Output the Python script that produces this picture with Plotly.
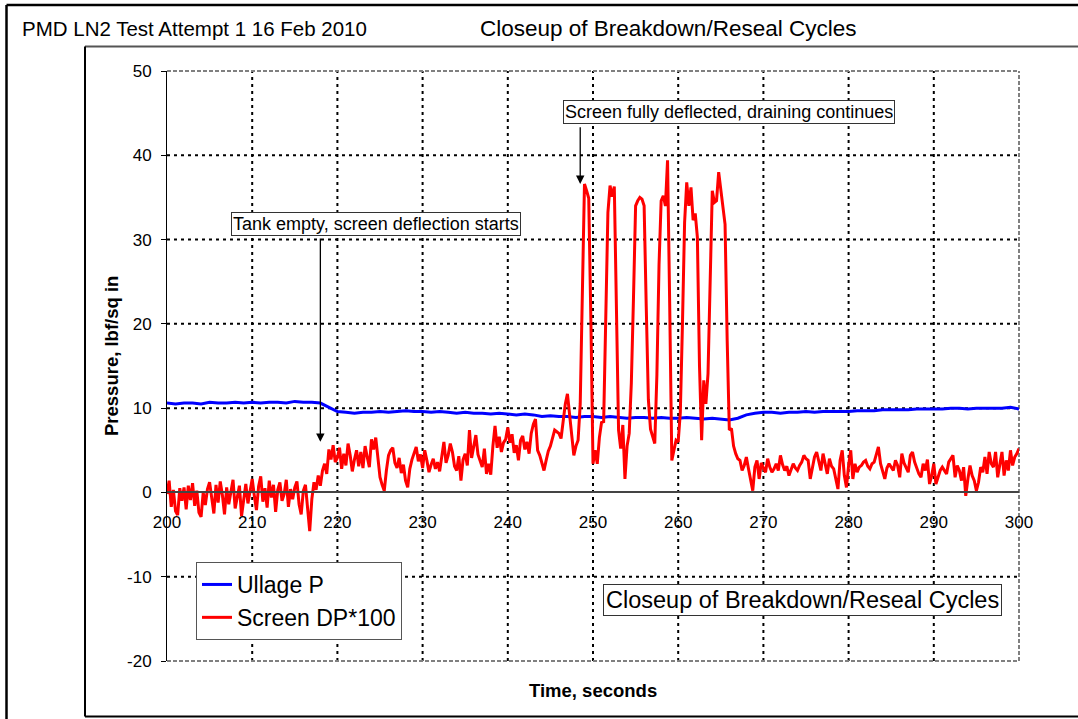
import plotly.graph_objects as go

# ---------------- data ----------------
x_ticks = [200, 210, 220, 230, 240, 250, 260, 270, 280, 290, 300]
y_ticks = [-20, -10, 0, 10, 20, 30, 40, 50]
y_tick_text = ["-20", "-10", "0", "10", "20", "30", "40", "50"]

# Ullage pressure, 1 s samples from t = 200 s
ullage_t0, ullage_dt = 200, 1.0
ullage_p = [
    10.6, 10.5, 10.6, 10.6, 10.5, 10.7, 10.6, 10.6, 10.7, 10.6,
    10.7, 10.6, 10.7, 10.7, 10.6, 10.8, 10.7, 10.7, 10.6, 10.1,
    9.6, 9.5, 9.4, 9.5, 9.5, 9.6, 9.5, 9.6, 9.7, 9.6,
    9.6, 9.5, 9.6, 9.5, 9.4, 9.5, 9.4, 9.4, 9.3, 9.4,
    9.3, 9.2, 9.3, 9.2, 9.0, 9.1, 9.0, 9.0, 8.9, 9.0,
    9.0, 8.9, 9.0, 8.9, 8.8, 8.9, 8.9, 8.8, 8.9, 8.8,
    8.8, 8.9, 8.8, 8.7, 8.8, 8.7, 8.6, 8.8, 9.2, 9.4,
    9.5, 9.5, 9.4, 9.5, 9.5, 9.6, 9.5, 9.6, 9.6, 9.6,
    9.6, 9.7, 9.7, 9.7, 9.8, 9.8, 9.8, 9.8, 9.9, 9.9,
    9.9, 9.9, 10.0, 10.0, 9.9, 10.0, 10.0, 10.0, 10.0, 10.1,
    9.9,
]

# Screen DP * 100, 0.25 s samples from t = 200 s
screen_t0, screen_dt = 200, 0.25
screen_dp = [
    # 200-205
    -0.2, 1.4, -1.7, 0.3, -2.2, -2.7, 0.5, -1.0, 0.6, -2.0, 0.8, -0.9, 1.1, -1.6, 0.2, -2.4, -2.9, 0.0, -1.5, 0.4,
    # 205-210
    1.2, -0.8, -2.5, 0.9, -1.2, 1.3, -0.3, -2.6, 0.6, -1.4, 0.2, 1.5, -1.9, -0.5, 0.8, -2.8, -0.7, 1.0, -1.3, 0.3,
    # 210-215
    1.6, -0.4, -2.1, 0.7, 1.9, -1.1, 0.5, -1.8, 1.4, -0.6, 0.9, -2.3, 0.3, 1.2, -1.0, -0.2, 1.5, -1.7, 0.4, -0.8,
    # 215-220
    0.6, 1.3, -1.4, -2.6, 0.2, 0.9, -1.6, -4.6, -0.8, 1.2, 0.3, 2.0, 0.8, 2.6, 3.4, 2.2, 5.1, 3.9, 5.6, 3.6,
    # 220-225
    4.1, 5.3, 2.8, 4.6, 3.2, 5.8, 4.4, 2.5, 3.9, 5.0, 3.1, 4.8, 2.9, 5.5, 4.2, 3.0, 6.3, 5.1, 6.5, 4.0,
    # 225-230
    1.8, 0.9, 0.2, 2.6, 4.4, 5.0, 5.3, 3.5, 2.9, 4.1, 2.3, 3.3, 1.4, 0.6, 2.8, 3.9, 4.6, 5.4, 3.7, 4.5,
    # 230-235
    2.9, 5.0, 3.8, 2.4, 3.3, 4.0, 2.8, 3.6, 2.5, 4.2, 6.0, 3.5, 4.4, 5.8, 4.8, 3.1, 2.6, 4.3, 1.4, 3.9,
    # 235-240
    4.6, 3.2, 7.4, 4.1, 5.3, 6.8, 4.5, 3.8, 3.0, 5.2, 2.2, 3.4, 2.1, 5.5, 7.9, 5.3, 6.6, 4.8, 5.9, 6.3,
    # 240-245
    7.7, 5.9, 6.9, 4.7, 5.6, 3.8, 6.2, 6.7, 5.1, 6.0, 4.6, 7.0, 8.1, 8.7, 5.0, 4.4, 3.6, 2.6, 3.8, 4.9,
    # 245-250
    5.5, 6.5, 7.4, 7.2, 7.0, 6.4, 8.8, 10.5, 11.7, 9.0, 6.4, 4.4, 5.5, 6.2, 10.5, 22.0, 36.6, 35.8, 34.9, 20.5,
    # 250-255
    3.4, 5.0, 3.4, 6.5, 8.3, 8.4, 20.0, 33.2, 36.4, 35.1, 36.3, 22.0, 7.4, 5.2, 8.0, 1.6, 5.5, 7.0, 13.0, 23.0,
    # 255-260
    34.0, 34.6, 35.0, 34.8, 34.0, 22.0, 11.0, 7.5, 6.5, 5.8, 14.0, 27.0, 34.6, 35.2, 34.0, 39.4, 22.4, 3.8, 5.0, 6.2,
    # 260-265
    6.0, 9.5, 20.0, 32.0, 36.8, 34.0, 36.2, 32.3, 33.1, 30.3, 15.0, 6.2, 13.3, 10.5, 14.1, 24.0, 35.8, 34.4, 34.6, 38.0,
    # 265-270
    35.9, 34.0, 31.8, 18.0, 7.4, 7.6, 5.5, 4.6, 4.0, 3.8, 2.6, 3.2, 4.2, 2.8, 1.5, 0.2, 3.0, 3.8, 1.6, 3.5,
    # 270-275
    2.9, 2.4, 4.0, 3.0, 2.4, 2.8, 3.4, 2.6, 4.4, 3.3, 2.6, 3.1, 2.0, 2.7, 3.4, 2.9, 2.6, 3.2, 3.6, 4.4,
    # 275-280
    4.0, 3.8, 1.6, 2.9, 4.2, 4.8, 3.5, 2.6, 4.6, 3.4, 2.2, 4.0, 3.1, 2.8, 1.5, 0.4, 3.8, 5.0, 2.0, 0.6,
    # 280-285
    3.2, 5.0, 1.6, 3.4, 2.4, 3.0, 3.2, 3.6, 3.8, 3.1, 2.8, 3.4, 3.6, 4.6, 5.4, 3.4, 2.5, 1.6, 2.9, 3.4,
    # 285-290
    3.0, 2.6, 3.8, 3.2, 1.8, 4.6, 3.5, 3.0, 2.4, 4.4, 4.8, 3.6, 2.8, 2.2, 1.8, 3.4, 2.6, 3.9, 1.0, 2.0,
    # 290-295
    3.4, 1.0, 1.8, 2.6, 3.0, 2.6, 2.2, 3.6, 4.0, 4.4, 1.8, 3.2, 2.6, 1.4, 3.0, -0.4, 1.6, 3.2, 2.0, 1.4,
    # 295-300
    0.2, 1.2, 3.0, 2.4, 4.2, 2.2, 4.8, 3.4, 3.0, 4.8, 1.8, 3.6, 4.8, 2.0, 3.8, 2.6, 5.0, 3.2, 4.2, 4.6,
    5.2,
]

ullage_t = [ullage_t0 + ullage_dt * i for i in range(len(ullage_p))]
screen_t = [screen_t0 + screen_dt * i for i in range(len(screen_dp))]

# annotation targets (data coordinates)
tank_empty_t, tank_empty_tail, tank_empty_tip = 218.0, 30.3, 6.0
deflected_t, deflected_tail, deflected_tip = 248.5, 43.5, 36.6

# ---------------- layout geometry ----------------
W, H = 1078, 719
px_l, px_r, px_t, px_b = 167, 1019, 71, 661
xdom = [px_l / W, px_r / W]
ydom = [1 - px_b / H, 1 - px_t / H]
ymin, ymax = y_ticks[0], y_ticks[-1]
zero_pos = ydom[0] + (0 - ymin) / (ymax - ymin) * (ydom[1] - ydom[0])

FONT = "Arial, Liberation Sans, sans-serif"

fig = go.Figure()
fig.add_trace(go.Scatter(x=ullage_t, y=ullage_p, mode="lines", name="Ullage P",
                         line=dict(color="#0000FF", width=3)))
fig.add_trace(go.Scatter(x=screen_t, y=screen_dp, mode="lines", name="Screen DP*100",
                         line=dict(color="#FF0000", width=3)))

shapes = []
grid_style = dict(color="black", width=2, dash="3px,4px")
for xv in x_ticks[1:-1]:
    shapes.append(dict(type="line", xref="x", yref="y domain", x0=xv, x1=xv, y0=0, y1=1,
                       line=grid_style, layer="below"))
for yv in y_ticks:
    if yv in (ymin, 0, ymax):
        continue
    shapes.append(dict(type="line", xref="x domain", yref="y", x0=0, x1=1, y0=yv, y1=yv,
                       line=grid_style, layer="below"))
border = dict(color="#808080", width=2, dash="4px,2px")
shapes += [
    dict(type="line", xref="x domain", yref="y domain", x0=0, x1=1, y0=1, y1=1, line=border, layer="below"),
    dict(type="line", xref="x domain", yref="y domain", x0=1, x1=1, y0=0, y1=1, line=border, layer="below"),
    dict(type="line", xref="x domain", yref="y domain", x0=0, x1=1, y0=0, y1=0, line=border, layer="below"),
]
# outer frames
shapes += [
    dict(type="line", xref="paper", yref="paper", x0=6.5 / W, x1=1.0, y0=1 - 5 / H, y1=1 - 5 / H,
         line=dict(color="black", width=2.5)),
    dict(type="line", xref="paper", yref="paper", x0=6.5 / W, x1=6.5 / W, y0=0, y1=1 - 5 / H,
         line=dict(color="black", width=2.5)),
    dict(type="line", xref="paper", yref="paper", x0=85 / W, x1=1.0, y0=1 - 46.5 / H, y1=1 - 46.5 / H,
         line=dict(color="#555555", width=2)),
    dict(type="line", xref="paper", yref="paper", x0=85 / W, x1=85 / W, y0=1 - 716.5 / H, y1=1 - 46.5 / H,
         line=dict(color="black", width=2)),
    dict(type="line", xref="paper", yref="paper", x0=85 / W, x1=1.0, y0=1 - 716.5 / H, y1=1 - 716.5 / H,
         line=dict(color="black", width=2)),
]

annotations = [
    dict(text="PMD LN2 Test Attempt 1 16 Feb 2010", xref="paper", yref="paper",
         x=20 / W, y=1 - 29 / H, xanchor="left", yanchor="middle", showarrow=False,
         font=dict(family=FONT, size=20.5, color="black")),
    dict(text="Closeup of Breakdown/Reseal Cycles", xref="paper", yref="paper",
         x=668 / W, y=1 - 29 / H, xanchor="center", yanchor="middle", showarrow=False,
         font=dict(family=FONT, size=22.5, color="black")),
    dict(text="Closeup of Breakdown/Reseal Cycles", xref="paper", yref="paper",
         x=802 / W, y=1 - 599.5 / H, xanchor="center", yanchor="middle", showarrow=False,
         font=dict(family=FONT, size=23.5, color="black"), bgcolor="white",
         bordercolor="#333333", borderwidth=1, borderpad=2),
    dict(text="Tank empty, screen deflection starts", xref="paper", yref="paper",
         x=376 / W, y=1 - 224 / H, xanchor="center", yanchor="middle", showarrow=False,
         font=dict(family=FONT, size=18, color="black"), bgcolor="white",
         bordercolor="#333333", borderwidth=1, borderpad=1),
    dict(text="Screen fully deflected, draining continues", xref="paper", yref="paper",
         x=729 / W, y=1 - 112 / H, xanchor="center", yanchor="middle", showarrow=False,
         font=dict(family=FONT, size=18, color="black"), bgcolor="white",
         bordercolor="#333333", borderwidth=1, borderpad=1),
    dict(text="", x=tank_empty_t, y=tank_empty_tip, xref="x", yref="y",
         ax=tank_empty_t, ay=tank_empty_tail, axref="x", ayref="y",
         showarrow=True, arrowhead=2, arrowsize=1.3, arrowwidth=1.3, arrowcolor="black"),
    dict(text="", x=deflected_t, y=deflected_tip, xref="x", yref="y",
         ax=deflected_t, ay=deflected_tail, axref="x", ayref="y",
         showarrow=True, arrowhead=2, arrowsize=1.3, arrowwidth=1.3, arrowcolor="black"),
    dict(text="<b>Pressure, lbf/sq in</b>", xref="paper", yref="paper",
         x=112 / W, y=1 - 356 / H, textangle=-90, showarrow=False,
         xanchor="center", yanchor="middle", font=dict(family=FONT, size=18.5, color="black")),
    dict(text="<b>Time, seconds</b>", xref="paper", yref="paper",
         x=593 / W, y=1 - 690 / H, showarrow=False,
         xanchor="center", yanchor="middle", font=dict(family=FONT, size=18.5, color="black")),
]

fig.update_layout(
    width=W, height=H, autosize=False,
    margin=dict(l=0, r=0, t=0, b=0, pad=0, autoexpand=False),
    paper_bgcolor="white", plot_bgcolor="white",
    font=dict(family=FONT, color="black"),
    showlegend=True,
    legend=dict(x=196 / W, y=1 - 562 / H, xanchor="left", yanchor="top",
                bgcolor="white", bordercolor="#555555", borderwidth=1,
                font=dict(family=FONT, size=23, color="black"),
                itemwidth=30),
    xaxis=dict(domain=xdom, range=[x_ticks[0], x_ticks[-1]], tickvals=x_ticks,
               anchor="free", position=zero_pos, showgrid=False, zeroline=False,
               automargin=False, showline=True, linecolor="#444444", linewidth=1.5, ticks="",
               ticklabelstandoff=14, tickfont=dict(family=FONT, size=17, color="black")),
    yaxis=dict(domain=ydom, range=[ymin, ymax], tickvals=y_ticks, ticktext=y_tick_text,
               anchor="x", showgrid=False, zeroline=False, automargin=False, showline=True,
               linecolor="black", linewidth=1, ticks="outside", ticklen=5, tickcolor="black",
               ticklabelstandoff=6, tickfont=dict(family=FONT, size=17, color="black")),
    shapes=shapes,
    annotations=annotations,
)

fig.write_html("out.html", config={"displayModeBar": False},
               post_script="document.body.style.margin='0px';document.body.style.overflow='hidden';")
